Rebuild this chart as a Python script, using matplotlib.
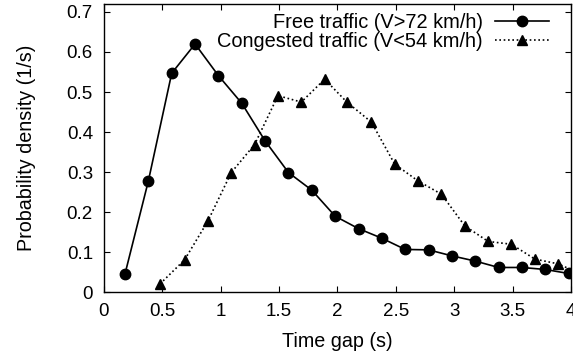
import matplotlib.pyplot as plt

plt.rcParams["font.family"] = ["Liberation Sans", "DejaVu Sans"]

# free traffic (V>72 km/h)
free_x = [0.18, 0.38, 0.58, 0.78, 0.98, 1.18, 1.38, 1.58, 1.78, 1.98,
          2.18, 2.38, 2.58, 2.78, 2.98, 3.18, 3.38, 3.58, 3.78, 3.98]
free_y = [0.046, 0.278, 0.547, 0.620, 0.541, 0.472, 0.378, 0.299, 0.255, 0.190,
          0.159, 0.135, 0.107, 0.106, 0.091, 0.078, 0.062, 0.062, 0.057, 0.047]

# congested traffic (V<54 km/h)
cong_x = [0.48, 0.69, 0.89, 1.09, 1.29, 1.49, 1.69, 1.89, 2.08, 2.29,
          2.49, 2.69, 2.89, 3.09, 3.29, 3.49, 3.69, 3.89, 4.09]
cong_y = [0.021, 0.081, 0.178, 0.299, 0.369, 0.491, 0.475, 0.532, 0.475, 0.425,
          0.320, 0.278, 0.245, 0.166, 0.127, 0.120, 0.083, 0.071, 0.045]

xticks = [0, 0.5, 1, 1.5, 2, 2.5, 3, 3.5, 4]
xticklabels = ["0", "0.5", "1", "1.5", "2", "2.5", "3", "3.5", "4"]
yticks = [0, 0.1, 0.2, 0.3, 0.4, 0.5, 0.6, 0.7]
yticklabels = ["0", "0.1", "0.2", "0.3", "0.4", "0.5", "0.6", "0.7"]

fig = plt.figure(figsize=(5.73, 3.58), dpi=100)
ax = fig.add_axes([0.1815, 0.1835, 0.815, 0.8055])

ax.plot(free_x, free_y, color="black", lw=1.2, marker="o", ms=7.5,
        label="Free traffic (V>72 km/h)")
ax.plot(cong_x, cong_y, color="black", lw=1.2, ls=(0, (1, 1.6)), marker="^", ms=7,
        label="Congested traffic (V<54 km/h)")

ax.set_xlim(0, 4)
ax.set_ylim(0, 0.72)
ax.set_xticks(xticks)
ax.set_xticklabels(xticklabels)
ax.set_yticks(yticks)
ax.set_yticklabels(yticklabels)
ax.tick_params(direction="in", length=4.5, width=0.8, top=True, right=True,
               labelsize=13.5, pad=8)
for sp in ax.spines.values():
    sp.set_linewidth(1.0)

ax.set_xlabel("Time gap (s)", fontsize=14.2, labelpad=8)
ax.set_ylabel("Probability density (1/s)", fontsize=14.2, labelpad=22)

ax.legend(loc="upper right", bbox_to_anchor=(1, 1.045), frameon=False,
          markerfirst=False, fontsize=14.4,
          handlelength=2.7, handletextpad=0.6, labelspacing=0.0,
          borderaxespad=0.9, borderpad=0.2)

fig.savefig("out.png", dpi=100)
